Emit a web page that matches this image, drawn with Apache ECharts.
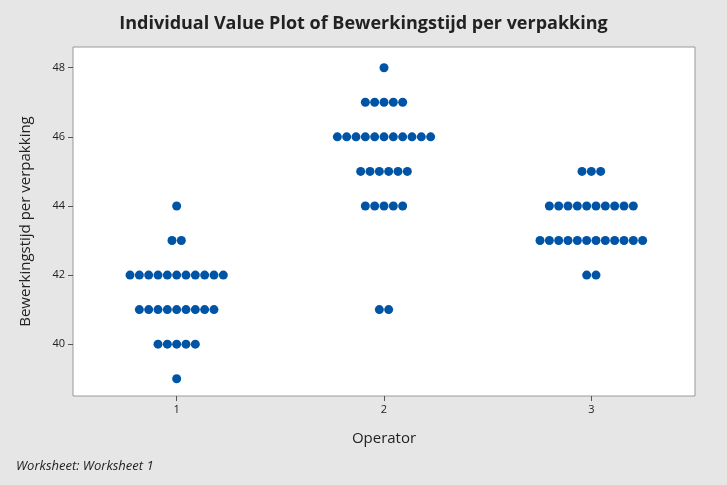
<!DOCTYPE html>
<html>
<head>
<meta charset="utf-8">
<script src="https://cdn.jsdelivr.net/npm/echarts@6/dist/echarts.min.js"></script>
<style>
  html, body { margin: 0; padding: 0; background: #e6e6e6; }
  #chart { width: 727px; height: 485px; }
</style>
</head>
<body>
<div id="chart"></div>
<script>
// 每个操作员：数值及其出现次数
var levels1 = [39, 40, 41, 42, 43, 44];
var counts1 = [1, 5, 9, 11, 2, 1];
var levels2 = [41, 44, 45, 46, 47, 48];
var counts2 = [2, 5, 6, 11, 5, 1];
var levels3 = [42, 43, 44, 45];
var counts3 = [2, 12, 10, 3];
var yTicks = [40, 42, 44, 46, 48];
var xTicks = [1, 2, 3];

(function () {
    'use strict';
    var myChart = echarts.init(document.getElementById('chart'));
    var step = 0.045; // 点之间的水平间距（堆叠显示）

    function buildPoints(op, levels, counts) {
        var pts = [];
        for (var k = 0; k < levels.length; k++) {
            var n = counts[k];
            for (var i = 0; i < n; i++) {
                pts.push([op + (i - (n - 1) / 2) * step, levels[k]]);
            }
        }
        return pts;
    }

    var data = []
        .concat(buildPoints(1, levels1, counts1))
        .concat(buildPoints(2, levels2, counts2))
        .concat(buildPoints(3, levels3, counts3));

    var font = 'Open Sans';
    var option = {
        backgroundColor: '#e6e6e6',
        title: {
            text: 'Individual Value Plot of Bewerkingstijd per verpakking',
            left: 'center',
            top: 10,
            textStyle: { fontFamily: font, fontSize: 18, fontWeight: 'bold', color: '#222' }
        },
        graphic: [{
            type: 'text',
            left: 16,
            top: 460,
            style: { text: 'Worksheet: Worksheet 1', fontFamily: font, fontStyle: 'italic', fontSize: 13, fill: '#222' }
        }],
        grid: {
            left: 73, right: 32, top: 47, bottom: 89,
            show: true, backgroundColor: '#fff', borderColor: '#999', borderWidth: 1
        },
        xAxis: {
            type: 'value', min: 0.5, max: 3.5,
            name: 'Operator', nameLocation: 'middle', nameGap: 35,
            nameTextStyle: { fontFamily: font, fontSize: 15, color: '#222' },
            axisLine: { show: false },
            axisTick: { show: true, customValues: xTicks, length: 5, lineStyle: { color: '#555' } },
            axisLabel: { customValues: xTicks, fontFamily: font, fontSize: 11, color: '#222' },
            splitLine: { show: false }
        },
        yAxis: {
            type: 'value', min: 38.5, max: 48.6,
            name: 'Bewerkingstijd per verpakking', nameLocation: 'middle', nameGap: 40,
            nameTextStyle: { fontFamily: font, fontSize: 15, color: '#222' },
            axisLine: { show: false },
            axisTick: { show: true, customValues: yTicks, length: 5, lineStyle: { color: '#555' } },
            axisLabel: { customValues: yTicks, fontFamily: font, fontSize: 11, color: '#222' },
            splitLine: { show: false }
        },
        series: [{
            type: 'scatter',
            symbolSize: 9,
            itemStyle: { color: '#0054a6', opacity: 1 },
            data: data
        }]
    };

    myChart.setOption(option);
    window.addEventListener('resize', function () {
        myChart.resize();
    });
})();
</script>
</body>
</html>
